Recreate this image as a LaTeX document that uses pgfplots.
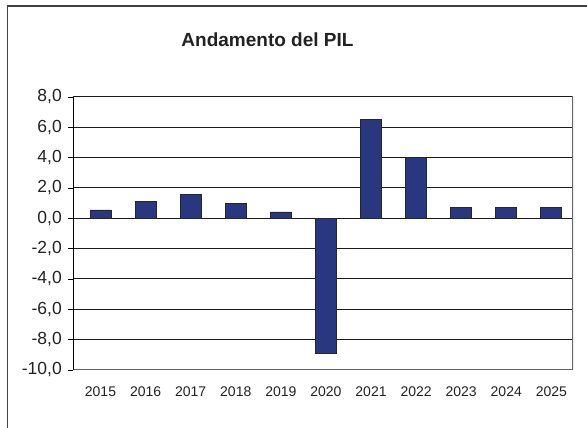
\documentclass[border=0pt]{standalone}
\usepackage{fontspec}
\setmainfont{Liberation Sans}
\usepackage{pgfplots}
\pgfplotsset{compat=1.18}

\definecolor{barblue}{RGB}{41,54,128}
\definecolor{txt}{RGB}{34,34,34}

\begin{document}
\begin{tikzpicture}[x=1pt,y=1pt]
\path[use as bounding box] (0,0) rectangle (587,428);
% outer chart frame (cut off at right and bottom)
\draw[black!75, line width=1.5pt] (7.5,0) -- (7.5,422) -- (587,422);
\node[font=\fontsize{19}{22}\selectfont\bfseries, text=txt] at (267.5,388) {Andamento del PIL};

\begin{axis}[
    at={(73pt,58pt)}, anchor=south west,
    scale only axis, width=500pt, height=273pt,
    xmin=-0.61, xmax=10.48,
    ymin=-10, ymax=8,
    ytick={-10,-8,...,8},
    xtick={0,...,10},
    xticklabels={2015,2016,2017,2018,2019,2020,2021,2022,2023,2024,2025},
    /pgf/number format/.cd, fixed, fixed zerofill, precision=1, use comma, assume math mode=true,
    /pgfplots/.cd,
    ymajorgrids,
    major grid style={black!90, line width=1pt},
    axis line style={draw=none},
    tick align=outside,
    ytick pos=left,
    major tick length=5pt,
    ytick style={black, line width=0.8pt},
    xtick style={draw=none},
    yticklabel style={font=\fontsize{17.5}{20}\selectfont, text=txt, anchor=east, inner sep=0pt, xshift=-6pt},
    xticklabel style={font=\fontsize{14}{16}\selectfont, text=txt, anchor=north, inner sep=0pt, yshift=-12pt},
    ybar, bar width=21pt,
]
\addplot[fill=barblue, draw=black!85, line width=0.8pt] coordinates {
(0,0.55) (1,1.14) (2,1.6) (3,0.99) (4,0.42) (5,-8.9) (6,6.53) (7,4.02) (8,0.73) (9,0.73) (10,0.73)};
\draw[black!60, line width=1.2pt] (rel axis cs:0,0) -- (rel axis cs:1,0) -- (rel axis cs:1,1.015);
\draw[black, line width=1pt] (rel axis cs:0,0) -- (rel axis cs:0,1);
\end{axis}
\end{tikzpicture}
\end{document}
